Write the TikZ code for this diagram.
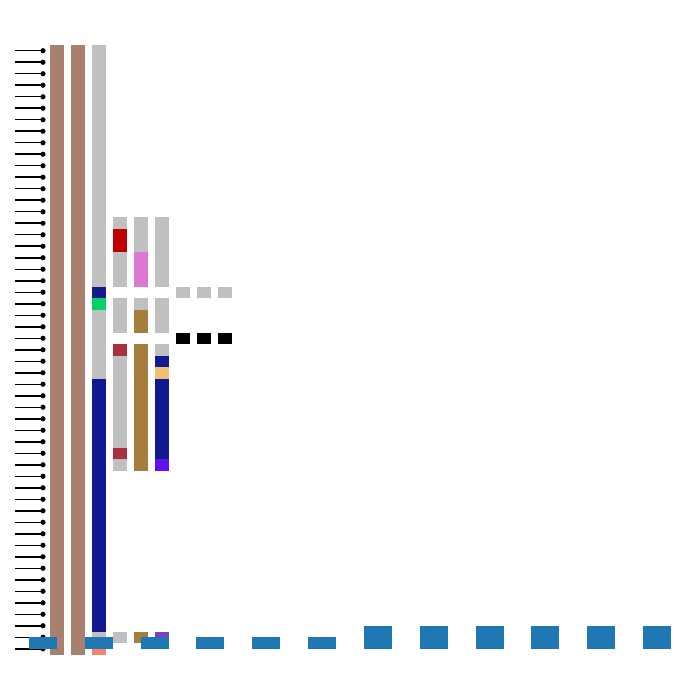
\documentclass[tikz,border=0pt]{standalone}
\usepackage{xcolor}
\usepackage{tikz}
\definecolor{trackbrown}{RGB}{169,128,109}
\definecolor{trackgrey}{RGB}{192,192,192}
\definecolor{tracknavy}{RGB}{18,26,145}
\definecolor{trackgreen}{RGB}{3,209,101}
\definecolor{trackred}{RGB}{192,0,0}
\definecolor{trackpink}{RGB}{221,119,212}
\definecolor{trackgold}{RGB}{165,126,62}
\definecolor{trackcrimson}{RGB}{170,48,64}
\definecolor{tracktan}{RGB}{240,192,112}
\definecolor{trackviolet}{RGB}{98,18,240}
\definecolor{tracksalmon}{RGB}{250,128,114}
\definecolor{trackpurple}{RGB}{128,64,192}
\definecolor{barblue}{RGB}{31,119,180}

% one cell block: column, first row, number of rows, colour
\newcommand{\trackcell}[4]{\fill[#4] ({50+21*#1},{45+11.5*#2}) rectangle ++(14,{11.5*#3});}

\begin{document}
\begin{tikzpicture}[
    x=1pt, y=-1pt,
    pin/.style={line width=1.5pt, draw=black},
    pindot/.style={fill=black},
    bar/.style={fill=barblue}
]
\useasboundingbox (0,0) rectangle (700,700);

% pins
\foreach \r in {0,...,52}{
    \draw[pin] (15,{50.75+11.5*\r}) -- (43,{50.75+11.5*\r});
    \fill[pindot] (43,{50.75+11.5*\r}) circle (2.6);
}

% tracks
\trackcell{0}{0}{53}{trackbrown}
\trackcell{1}{0}{53}{trackbrown}

\trackcell{2}{0}{21}{trackgrey}
\trackcell{2}{21}{1}{tracknavy}
\trackcell{2}{22}{1}{trackgreen}
\trackcell{2}{23}{6}{trackgrey}
\trackcell{2}{29}{22}{tracknavy}
\trackcell{2}{51}{1}{trackgrey}
\trackcell{2}{52}{1}{tracksalmon}

\trackcell{3}{15}{1}{trackgrey}
\trackcell{3}{16}{2}{trackred}
\trackcell{3}{18}{3}{trackgrey}
\trackcell{3}{22}{3}{trackgrey}
\trackcell{3}{26}{1}{trackcrimson}
\trackcell{3}{27}{8}{trackgrey}
\trackcell{3}{35}{1}{trackcrimson}
\trackcell{3}{36}{1}{trackgrey}
\trackcell{3}{51}{1}{trackgrey}

\trackcell{4}{15}{3}{trackgrey}
\trackcell{4}{18}{3}{trackpink}
\trackcell{4}{22}{1}{trackgrey}
\trackcell{4}{23}{2}{trackgold}
\trackcell{4}{26}{11}{trackgold}
\trackcell{4}{51}{1}{trackgold}

\trackcell{5}{15}{6}{trackgrey}
\trackcell{5}{22}{3}{trackgrey}
\trackcell{5}{26}{1}{trackgrey}
\trackcell{5}{27}{1}{tracknavy}
\trackcell{5}{28}{1}{tracktan}
\trackcell{5}{29}{7}{tracknavy}
\trackcell{5}{36}{1}{trackviolet}
\trackcell{5}{51}{1}{trackpurple}

\foreach \c in {6,7,8}{
    \trackcell{\c}{21}{1}{trackgrey}
    \trackcell{\c}{25}{1}{black}
}

% bars
\foreach \k in {0,...,5}
    \fill[bar] ({29+55.82*\k},637) rectangle ++(28,12);
\foreach \k in {6,...,11}
    \fill[bar] ({29+55.82*\k},626) rectangle ++(28,23);

\end{tikzpicture}
\end{document}
